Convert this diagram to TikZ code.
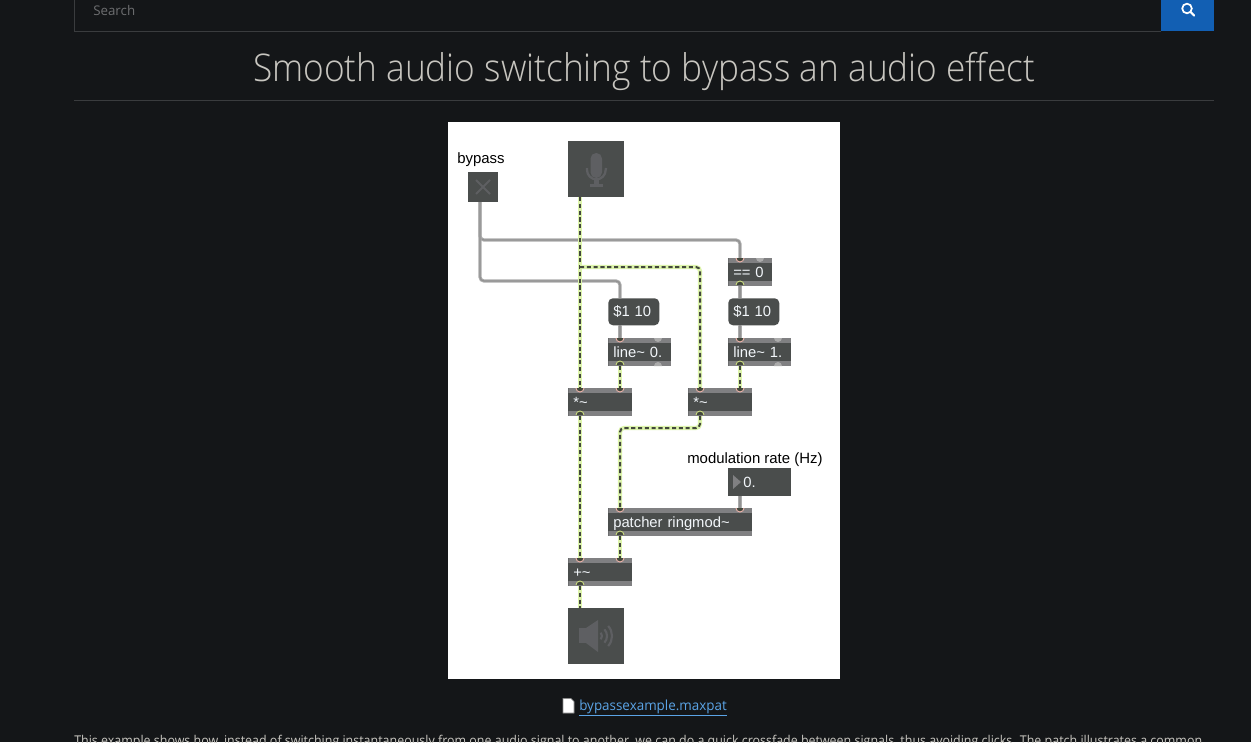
\documentclass[tikz,border=0pt]{standalone}
\usepackage{fontspec}
\usepackage{graphicx}
\setmainfont{Liberation Sans}
\newfontfamily\webfont{Open Sans}
\newfontfamily\titlefont{Open Sans Light}
\usetikzlibrary{calc}
\definecolor{pagebg}{HTML}{141618}
\definecolor{rulecol}{HTML}{3A3C3E}
\definecolor{btnblue}{HTML}{125FB3}
\definecolor{titlecol}{HTML}{C8C6C0}
\definecolor{linkcol}{HTML}{5BA4E6}
\definecolor{objbody}{HTML}{4A4D4C}
\definecolor{objbar}{HTML}{808082}
\definecolor{iconcol}{HTML}{5E5F62}
\definecolor{ctlA}{HTML}{ABABAB}
\definecolor{ctlB}{HTML}{929292}
\definecolor{sigA}{HTML}{DDF4AC}
\definecolor{sigB}{HTML}{42473C}
\definecolor{inletc}{HTML}{EBB3AA}
\definecolor{outletc}{HTML}{CBDC82}
\definecolor{objtext}{HTML}{F2F6FA}
\tikzset{
  x=0.75pt,y=-0.75pt,
  maxobj/.style 2 args={anchor=north west,fill=objbody,text=objtext,font=\fontsize{11.1pt}{12pt}\selectfont,
    minimum height=#2*0.75pt,text width=(#1-10)*0.75pt,inner xsep=3.75pt,inner ysep=0pt,align=left,
    text height=10pt,text depth=2.5pt,
    path picture={
      \fill[objbar] (path picture bounding box.north west) rectangle ([yshift=-3.75pt]path picture bounding box.north east);
      \fill[objbar] (path picture bounding box.south west) rectangle ([yshift=3.75pt]path picture bounding box.south east);}},
  msgbox/.style 2 args={anchor=north west,fill=objbody,text=objtext,font=\fontsize{11.1pt}{12pt}\selectfont,rounded corners=3.5pt,
    minimum height=#2*0.75pt,text width=(#1-10)*0.75pt,inner xsep=3.75pt,inner ysep=0pt,align=left,
    text height=10pt,text depth=2.5pt},
  iconbox/.style 2 args={anchor=north west,fill=objbody,minimum width=#1*0.75pt,minimum height=#2*0.75pt,inner sep=0pt},
  caption/.style={anchor=base west,text=black,font=\fontsize{11.2pt}{12pt}\selectfont,inner sep=0pt},
  ctl/.style={draw=ctlA,line width=2.4pt,rounded corners=3pt,postaction={draw=ctlB,line width=0.9pt}},
  sig/.style={draw=sigA,line width=3.1pt,rounded corners=3pt,postaction={draw=sigB,line width=1.5pt,dash pattern=on 3.1pt off 2pt}},
  icon/.style={fill=iconcol,draw=none},
}
\begin{document}
\begin{tikzpicture}
\useasboundingbox (0,0) rectangle (1251,742);
\clip (0,0) rectangle (1251,742);
\fill[pagebg] (0,0) rectangle (1251,742);
% page header
\draw[rulecol,line width=0.75pt] (74.5,0) -- (74.5,31.5) -- (1161,31.5);
\fill[btnblue] (1161,0) rectangle (1214,31);
\node[anchor=base west,inner sep=0pt,text=white!38!pagebg,font=\webfont\fontsize{10pt}{12pt}\selectfont] (searchtxt) at (93,16) {Search};
\draw[white,line width=1.3pt] (1187,8.5) circle[radius=3.6pt];
\draw[white,line width=1.6pt,line cap=round] (1190.5,12) -- (1194,15.5);
\node[anchor=base,inner sep=0pt,text=titlecol,font=\titlefont\fontsize{28.6pt}{32pt}\selectfont] (title) at (644,81) {\scalebox{0.924}[1]{Smooth audio switching to bypass an audio effect}};
\draw[rulecol,line width=0.75pt] (74,100.5) -- (1214,100.5);
% patcher
\fill[white] (448,122) rectangle (840,679);
\node[caption] (lblbypass) at (457,163) {bypass};
\node[caption] (lblrate) at (687,463) {modulation rate (Hz)};
\node[iconbox={30}{30}] (toggle) at (468,172) {};
\node[iconbox={56}{56}] (adc) at (568,141) {};
\node[maxobj={44}{28}] (eq) at (728,258) {== 0};
\node[msgbox={51}{27}] (msgA) at (608,298) {\$1 10};
\node[msgbox={51}{27}] (msgB) at (728,298) {\$1 10};
\node[maxobj={63}{28}] (lineA) at (608,338) {line\textasciitilde{} 0.};
\node[maxobj={63}{28}] (lineB) at (728,338) {line\textasciitilde{} 1.};
\node[maxobj={64}{28}] (mulA) at (568,388) {*\textasciitilde};
\node[maxobj={64}{28}] (mulB) at (688,388) {*\textasciitilde};
\fill[objbody] (728,468) rectangle (791,496);
\node[anchor=west,inner sep=0pt,text=objtext,font=\fontsize{11.1pt}{12pt}\selectfont] (rate) at (743,482.5) {0.};
\node[maxobj={144}{28}] (ring) at (608,508) {patcher ringmod\textasciitilde};
\node[maxobj={64}{28}] (add) at (568,558) {+\textasciitilde};
\node[iconbox={56}{56}] (dac) at (568,608) {};
% ports
\coordinate (toggleO) at (480,202);
\coordinate (adcO) at (580,197);
\coordinate (eqI) at (740,258);
\coordinate (eqO) at (740,286);
\coordinate (msgAI) at (620,298);
\coordinate (msgAO) at (620,325);
\coordinate (msgBI) at (740,298);
\coordinate (msgBO) at (740,325);
\coordinate (lineAI) at (620,338);
\coordinate (lineAO) at (620,366);
\coordinate (lineBI) at (740,338);
\coordinate (lineBO) at (740,366);
\coordinate (mulAI) at (580,388);
\coordinate (mulAJ) at (620,388);
\coordinate (mulAO) at (580,416);
\coordinate (mulBI) at (700,388);
\coordinate (mulBJ) at (740,388);
\coordinate (mulBO) at (700,416);
\coordinate (rateO) at (740,496);
\coordinate (ringI) at (620,508);
\coordinate (ringJ) at (740,508);
\coordinate (ringO) at (620,536);
\coordinate (addI) at (580,558);
\coordinate (addJ) at (620,558);
\coordinate (addO) at (580,586);
\coordinate (dacI) at (580,608);
\coordinate (tapEq) at (740,240);
\coordinate (tapMsg) at (620,281);
\coordinate (tapSig) at (580,267);
\coordinate (turnSig) at (700,267);
\coordinate (turnHigh) at (700,428);
\coordinate (turnLow) at (620,428);
% control cords
\draw[ctl] (toggleO) |- (tapEq) -- (eqI);
\draw[ctl] (toggleO) |- (tapMsg) -- (msgAI);
\draw[ctl] (msgAO) -- (lineAI);
\draw[ctl] (eqO) -- (msgBI);
\draw[ctl] (msgBO) -- (lineBI);
\draw[ctl] (rateO) -- (ringJ);
% signal cords
\draw[sig] (adcO) -- (mulAI);
\draw[sig] (tapSig) -- (turnSig) -- (mulBI);
\draw[sig] (lineAO) -- (mulAJ);
\draw[sig] (lineBO) -- (mulBJ);
\draw[sig] (mulAO) -- (addI);
\draw[sig] (mulBO) -- (turnHigh) -- (turnLow) -- (ringI);
\draw[sig] (ringO) -- (addJ);
\draw[sig] (addO) -- (dacI);
% inlets and outlets
\foreach \p in {eqI,lineAI,lineBI,mulAI,mulAJ,mulBI,mulBJ,ringI,ringJ,addI,addJ}
  \draw[inletc,fill=sigB,line width=0.7pt] (\p) ++(-4,0) arc[start angle=180,end angle=360,radius=3pt];
\foreach \p in {eqO,lineAO,lineBO,mulAO,mulBO,ringO,addO}
  \draw[outletc,fill=sigB,line width=0.7pt] (\p) ++(-4,-1) arc[start angle=180,end angle=0,radius=3pt];
\fill[ctlA] (658,338) ++(-4,0) arc[start angle=180,end angle=360,radius=3pt];
\fill[ctlA] (658,366) ++(-4,0) arc[start angle=180,end angle=0,radius=3pt];
\fill[ctlA] (778,338) ++(-4,0) arc[start angle=180,end angle=360,radius=3pt];
\fill[ctlA] (778,366) ++(-4,0) arc[start angle=180,end angle=0,radius=3pt];
\fill[ctlA] (760,258) ++(-4,0) arc[start angle=180,end angle=360,radius=3pt];
% toggle X
\draw[iconcol,line width=1.5pt] (476,180) -- (490,194) (490,180) -- (476,194);
% number triangle
\fill[objbar] (733,475) -- (741,482) -- (733,489) -- cycle;
% microphone
\fill[icon,rounded corners=4.2pt] (590.5,153) rectangle (602,178);
\draw[iconcol,line width=1.7pt] (587,168) -- (587,170) arc[start angle=180,end angle=360,radius=7pt] -- (606,168);
\fill[icon] (594.3,180) rectangle (598.5,186);
\fill[icon] (590,183.5) rectangle (603,186.5);
% speaker
\fill[icon] (579,628) rectangle (587,643);
\fill[icon] (586,628) -- (598,620) -- (598,652) -- (586,643) -- cycle;
\foreach \r in {5,10,15}
  \draw[iconcol,line width=1.6pt] ($(597,636)+(-42:\r)$) arc[start angle=42,end angle=-42,radius=\r*0.75pt];
% footer
\draw[black!45,fill=white,line width=0.5pt] (563,698.5) -- (571,698.5) -- (574,701.5) -- (574,713) -- (563,713) -- cycle;
\node[anchor=base west,inner sep=0pt,text=linkcol,font=\webfont\fontsize{10.4pt}{12pt}\selectfont] (link) at (579,710) {\underline{\scalebox{0.968}[1]{bypassexample.maxpat}}};
\node[anchor=base west,inner sep=0pt,text=titlecol,font=\webfont\fontsize{10.1pt}{12pt}\selectfont] (body) at (74,745) {\scalebox{0.925}[1]{This example shows how, instead of switching instantaneously from one audio signal to another, we can do a quick crossfade between signals, thus avoiding clicks. The patch illustrates a common}};
\end{tikzpicture}
\end{document}
